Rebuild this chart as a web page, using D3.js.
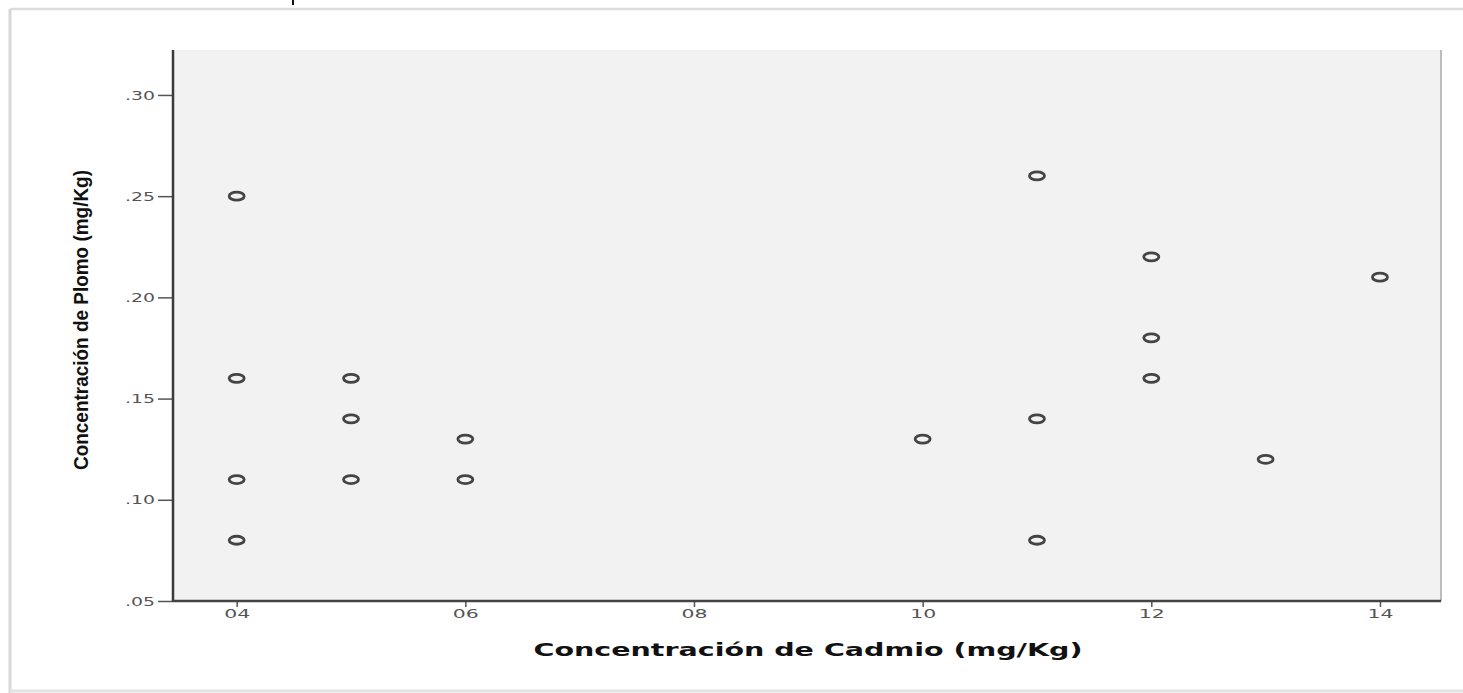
<!DOCTYPE html>
<html>
<head>
<meta charset="utf-8">
<script src="https://cdn.jsdelivr.net/npm/d3@7"></script>
<style>
  html, body { margin: 0; padding: 0; background: #ffffff; }
  svg { display: block; }
</style>
</head>
<body>
<svg id="chart" width="1463" height="693"></svg>
<script>
// ---- data ----
const cadmio = [0.04, 0.04, 0.04, 0.04, 0.05, 0.05, 0.05, 0.06, 0.06, 0.10, 0.11, 0.11, 0.11, 0.12, 0.12, 0.12, 0.13, 0.14];
const plomo  = [0.25, 0.16, 0.11, 0.08, 0.16, 0.14, 0.11, 0.13, 0.11, 0.13, 0.26, 0.14, 0.08, 0.22, 0.18, 0.16, 0.12, 0.21];
const xTicks = [0.04, 0.06, 0.08, 0.10, 0.12, 0.14];
const xTickLabels = ["04", "06", "08", "10", "12", "14"];
const yTicks = [0.05, 0.10, 0.15, 0.20, 0.25, 0.30];
const yTickLabels = [".05", ".10", ".15", ".20", ".25", ".30"];
const xTitle = "Concentración de Cadmio (mg/Kg)";
const yTitle = "Concentración de Plomo (mg/Kg)";

// ---- layout ----
const svg = d3.select("#chart");
const L = 173, R = 1441, T = 50, B = 601;

// outer frame
svg.append("line").attr("x1", 10).attr("x2", 1463).attr("y1", 9).attr("y2", 9)
  .attr("stroke", "#dcdcdc").attr("stroke-width", 2.5);
svg.append("line").attr("x1", 10).attr("x2", 10).attr("y1", 9).attr("y2", 693)
  .attr("stroke", "#d8d8d8").attr("stroke-width", 3);
svg.append("line").attr("x1", 10).attr("x2", 1463).attr("y1", 691).attr("y2", 691)
  .attr("stroke", "#e4e4e4").attr("stroke-width", 3);
svg.append("line").attr("x1", 293).attr("x2", 293).attr("y1", 0).attr("y2", 5)
  .attr("stroke", "#111").attr("stroke-width", 2);

const x = d3.scaleLinear().domain([0.03443, 0.14534]).range([L, R]);
const y = d3.scaleLinear().domain([0.05, 0.32221]).range([B, T]);

// plot background
svg.append("rect").attr("x", L).attr("y", T).attr("width", R - L).attr("height", B - T)
  .attr("fill", "#f2f2f2");
// right border
svg.append("line").attr("x1", R).attr("x2", R).attr("y1", T).attr("y2", B)
  .attr("stroke", "#a8a8a8").attr("stroke-width", 1.5);

const tickFont = "'DejaVu Sans', Verdana, sans-serif";

// y axis
const yAxis = d3.axisLeft(y).tickValues(yTicks)
  .tickFormat((d, i) => yTickLabels[i]).tickSize(15).tickPadding(3);
const gy = svg.append("g").attr("transform", `translate(${L},0)`).call(yAxis);
gy.select(".domain").remove();
gy.selectAll(".tick line").attr("stroke", "#555").attr("stroke-width", 1.5);
gy.selectAll(".tick text").attr("fill", "#555").attr("font-family", tickFont)
  .attr("font-size", 13).attr("textLength", 30).attr("lengthAdjust", "spacingAndGlyphs");
svg.append("line").attr("x1", L).attr("x2", L).attr("y1", T).attr("y2", B + 1)
  .attr("stroke", "#3a3a3a").attr("stroke-width", 2.5);

// x axis
const xAxis = d3.axisBottom(x).tickValues(xTicks)
  .tickFormat((d, i) => xTickLabels[i]).tickSize(6).tickPadding(2);
const gx = svg.append("g").attr("transform", `translate(0,${B})`).call(xAxis);
gx.select(".domain").remove();
gx.selectAll(".tick line").attr("stroke", "#555").attr("stroke-width", 1.5);
gx.selectAll(".tick text").attr("fill", "#555").attr("font-family", tickFont)
  .attr("font-size", 13).attr("textLength", 26).attr("lengthAdjust", "spacingAndGlyphs");
svg.append("line").attr("x1", L).attr("x2", R).attr("y1", B).attr("y2", B)
  .attr("stroke", "#444").attr("stroke-width", 2.5);

// points
const pts = cadmio.map((c, i) => ({ c, p: plomo[i] }));
svg.append("g").selectAll("ellipse").data(pts).join("ellipse")
  .attr("cx", d => x(d.c)).attr("cy", d => y(d.p))
  .attr("rx", 7.5).attr("ry", 4)
  .attr("fill", "none").attr("stroke", "#444").attr("stroke-width", 2.8);

// axis titles
svg.append("text").attr("x", 808).attr("y", 656).attr("text-anchor", "middle")
  .attr("font-family", "'DejaVu Sans', Verdana, sans-serif").attr("font-weight", "bold")
  .attr("font-size", 17).attr("fill", "#111")
  .attr("textLength", 549).attr("lengthAdjust", "spacingAndGlyphs")
  .text(xTitle);

svg.append("text").attr("transform", "translate(88,320) rotate(-90)").attr("text-anchor", "middle")
  .attr("font-family", "'Liberation Sans Narrow', 'Arial Narrow', 'Liberation Sans', Arial, sans-serif")
  .attr("font-weight", "bold").attr("font-size", 20).attr("fill", "#111")
  .attr("textLength", 300).attr("lengthAdjust", "spacingAndGlyphs")
  .text(yTitle);
</script>
</body>
</html>
